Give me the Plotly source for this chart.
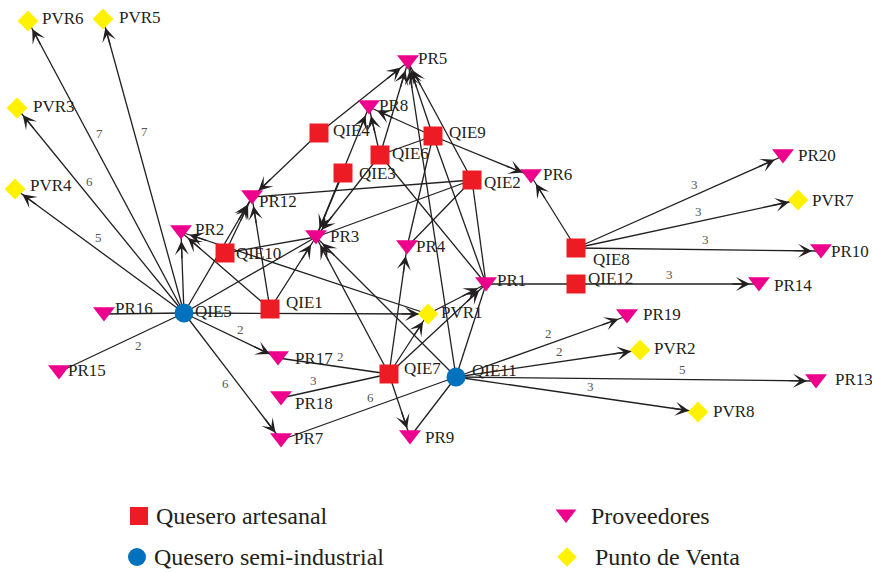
import math
import plotly.graph_objects as go

# ---------------- data ----------------
node_names = ["QIE1", "QIE2", "QIE3", "QIE4", "QIE6", "QIE7", "QIE8", "QIE9", "QIE10", "QIE12",
              "QIE5", "QIE11",
              "PR1", "PR2", "PR3", "PR4", "PR5", "PR6", "PR7", "PR8", "PR9", "PR10",
              "PR12", "PR13", "PR14", "PR15", "PR16", "PR17", "PR18", "PR19", "PR20",
              "PVR1", "PVR2", "PVR3", "PVR4", "PVR5", "PVR6", "PVR7", "PVR8"]
node_x = [270, 472, 343, 319, 380, 389, 576, 433, 225, 576,
          184, 456,
          486, 181, 316, 407, 408, 531, 281, 369, 410, 821,
          252, 816, 759, 59, 104, 278, 281, 627, 783,
          428, 640, 17, 15, 103, 28, 798, 698]
node_y = [309, 180, 173, 133, 155, 374, 248, 136, 253, 284,
          313, 377,
          284, 232, 237, 247, 62, 176, 440, 107, 437, 251,
          197, 381, 284, 372, 314, 358, 398, 316, 156,
          314, 350, 108, 189, 19, 21, 200, 412]
node_type = (["art"] * 10 + ["semi"] * 2 + ["prov"] * 19 + ["pv"] * 8)

edge_src = ["QIE5", "QIE5", "QIE5", "QIE5", "QIE5", "QIE5", "QIE5", "QIE5", "QIE5", "QIE5", "QIE5", "QIE5",
            "QIE1", "QIE1", "QIE1", "QIE10", "QIE10", "PVR1", "QIE4", "QIE4", "QIE3", "PR3",
            "QIE6", "QIE6", "QIE6", "QIE6", "QIE6", "QIE9", "QIE9", "QIE9", "QIE9", "QIE9",
            "QIE2", "QIE2", "QIE2", "QIE2", "QIE2",
            "QIE7", "QIE7", "QIE7", "QIE7", "QIE7", "QIE7", "QIE7", "PVR1",
            "QIE11", "QIE11", "QIE11", "QIE11", "QIE11", "QIE11", "QIE11", "QIE11", "QIE11",
            "QIE8", "QIE8", "QIE8", "QIE8", "PR1", "QIE12"]
edge_dst = ["PVR6", "PVR5", "PVR3", "PVR4", "PR2", "PR12", "PR3", "PVR1", "PR17", "PR7", "PR16", "PR15",
            "PR2", "PR12", "PR3", "PR12", "PR3", "PR2", "PR12", "PR5", "PR3", "PR8",
            "PR3", "PR8", "PR5", "PR1", "QIE9", "PR8", "PR5", "PR6", "PR4", "PR1",
            "PR5", "PR12", "PR3", "PR4", "PR1",
            "PR17", "PR18", "PR9", "PVR1", "PR1", "PR4", "PR3", "PR1",
            "PR7", "PR9", "PR1", "PR3", "PR5", "PR19", "PVR2", "PR13", "PVR8",
            "PR6", "PR20", "PVR7", "PR10", "QIE12", "PR14"]
edge_arrow = [1, 1, 1, 1, 1, 1, 0, 1, 1, 1, 0, 0,
              1, 1, 1, 1, 0, 1, 1, 1, 1, 1,
              1, 1, 1, 0, 0, 1, 1, 1, 0, 0,
              1, 0, 0, 0, 0,
              0, 0, 1, 1, 1, 1, 1, 1,
              0, 0, 0, 1, 1, 1, 1, 1, 1,
              1, 1, 1, 1, 0, 1]
edge_weight = [7, 7, 6, 5, None, None, None, None, 2, 6, None, 2,
               None, None, None, None, None, None, None, None, None, None,
               None, None, None, None, None, None, None, None, None, None,
               None, None, None, None, None,
               2, 3, None, None, None, None, None, None,
               6, None, None, None, None, 2, 2, 5, 3,
               None, 3, 3, 3, None, 3]

legend_labels = ["Quesero artesanal", "Quesero semi-industrial", "Proveedores", "Punto de Venta"]

# ---------------- style ----------------
FONT = "Liberation Serif, Times New Roman, serif"
EDGE_COLOR = "#231F20"
type_style = {
    "art": dict(symbol="square", color="#ED1C24", size=19),
    "semi": dict(symbol="circle", color="#0071BC", size=19),
    "prov": dict(symbol="triangle-down", color="#EC008C", size=19),
    "pv": dict(symbol="diamond", color="#FFF200", size=16),
}
label_offset = {
    "PVR6": (12, -3), "PVR5": (14, -2), "PVR3": (14, -2), "PVR4": (13, -4),
    "PR5": (8, -4), "PR8": (8, -2), "QIE4": (12, -3), "QIE9": (14, -4),
    "QIE6": (10, -2), "QIE3": (14, 0), "QIE2": (10, 2), "PR6": (10, -2),
    "PR20": (13, -1), "PVR7": (12, 0), "PR10": (8, 0), "PR12": (5, 4),
    "PR2": (12, -3), "QIE10": (9, 0), "PR3": (12, -1), "PR4": (7, -1),
    "QIE8": (15, 11), "PR1": (9, -4), "QIE12": (10, -6), "PR14": (13, 1),
    "PR16": (9, -6), "QIE5": (9, -2), "QIE1": (14, -7), "PVR1": (11, -2),
    "PR19": (14, -2), "PVR2": (12, -2), "PR17": (15, 0), "QIE7": (13, -6),
    "QIE11": (14, -7), "PR13": (17, -2), "PR15": (7, -2), "PR18": (12, 5),
    "PVR8": (13, -1), "PR7": (11, -2), "PR9": (13, 0),
}
weight_side = {("QIE5", "PR15"): -1, ("QIE5", "PR7"): -1}
weight_t = {("QIE5", "PVR6"): 0.60, ("QIE5", "PVR5"): 0.61, ("QIE5", "PVR3"): 0.61,
            ("QIE5", "PVR4"): 0.54, ("QIE5", "PR15"): 0.40, ("QIE5", "PR17"): 0.56,
            ("QIE5", "PR7"): 0.51, ("QIE7", "PR17"): 0.45, ("QIE7", "PR18"): 0.68,
            ("QIE11", "PR7"): 0.47, ("QIE8", "PR20"): 0.59, ("QIE8", "PVR7"): 0.56,
            ("QIE8", "PR10"): 0.53, ("QIE12", "PR14"): 0.51, ("QIE11", "PR19"): 0.56,
            ("QIE11", "PVR2"): 0.57, ("QIE11", "PR13"): 0.63, ("QIE11", "PVR8"): 0.55}

pos = {n: (x, y) for n, x, y in zip(node_names, node_x, node_y)}

fig = go.Figure()

# edges as lines (under the nodes)
ex, ey = [], []
for s, d in zip(edge_src, edge_dst):
    ex += [pos[s][0], pos[d][0], None]
    ey += [pos[s][1], pos[d][1], None]
fig.add_trace(go.Scatter(x=ex, y=ey, mode="lines", hoverinfo="skip", cliponaxis=False,
                         line=dict(color=EDGE_COLOR, width=1.3), showlegend=False))

annotations = []
# arrowheads
for s, d, a in zip(edge_src, edge_dst, edge_arrow):
    if not a:
        continue
    x0, y0 = pos[s]
    x1, y1 = pos[d]
    L = math.hypot(x1 - x0, y1 - y0)
    ux, uy = (x1 - x0) / L, (y1 - y0) / L
    tail = 28
    annotations.append(dict(x=x1, y=y1, xref="x", yref="y", text="", showarrow=True,
                            ax=-ux * tail, ay=-uy * tail, axref="pixel", ayref="pixel",
                            arrowhead=3, arrowsize=1.8, arrowwidth=1.3,
                            arrowcolor=EDGE_COLOR, standoff=9))

# weight labels
for s, d, w in zip(edge_src, edge_dst, edge_weight):
    if w is None:
        continue
    x0, y0 = pos[s]
    x1, y1 = pos[d]
    L = math.hypot(x1 - x0, y1 - y0)
    ux, uy = (x1 - x0) / L, (y1 - y0) / L
    nx, ny = uy, -ux
    if ny > 0:
        nx, ny = -nx, -ny
    side = weight_side.get((s, d), 1)
    t = weight_t.get((s, d), 0.56)
    px = x0 + (x1 - x0) * t + nx * 10 * side
    py = y0 + (y1 - y0) * t + ny * 10 * side
    annotations.append(dict(x=px, y=py, xref="x", yref="y", text=str(w), showarrow=False,
                            font=dict(family=FONT, size=13, color="#555555")))

# nodes
for t, lab in zip(["art", "semi", "prov", "pv"], legend_labels):
    st = type_style[t]
    xs = [x for x, tt in zip(node_x, node_type) if tt == t]
    ys = [y - (2 if t == "prov" else 0) for y, tt in zip(node_y, node_type) if tt == t]
    nm = [n for n, tt in zip(node_names, node_type) if tt == t]
    fig.add_trace(go.Scatter(x=xs, y=ys, mode="markers", name=lab, text=nm,
                             hoverinfo="text", showlegend=False, cliponaxis=False,
                             marker=dict(symbol=st["symbol"], color=st["color"],
                                         size=st["size"], line=dict(width=0))))

# node labels
for n, x, y in zip(node_names, node_x, node_y):
    dx, dy = label_offset.get(n, (11, 0))
    annotations.append(dict(x=x + dx, y=y + dy, xref="x", yref="y", text=n, showarrow=False,
                            xanchor="left", yanchor="middle",
                            font=dict(family=FONT, size=17, color="#231F20")))

# legend (drawn manually)
leg_pos = [(139, 516, 154), (137, 557, 152), (566, 516, 589), (567, 557, 593)]
for (mx, my, tx), t, lab in zip(leg_pos, ["art", "semi", "prov", "pv"], legend_labels):
    st = type_style[t]
    fig.add_trace(go.Scatter(x=[mx], y=[my - (2 if t == "prov" else 0)], mode="markers",
                             hoverinfo="skip", showlegend=False, cliponaxis=False,
                             marker=dict(symbol=st["symbol"], color=st["color"],
                                         size=st["size"] - 1, line=dict(width=0))))
    annotations.append(dict(x=tx, y=my, xref="x", yref="y", text=lab, showarrow=False,
                            xanchor="left", yanchor="middle",
                            font=dict(family=FONT, size=24, color="#231F20")))

fig.update_layout(
    width=872, height=572,
    margin=dict(l=0, r=0, t=0, b=0),
    paper_bgcolor="white", plot_bgcolor="white",
    xaxis=dict(range=[0, 872], visible=False, fixedrange=True),
    yaxis=dict(range=[572, 0], visible=False, fixedrange=True),
    annotations=annotations,
    showlegend=False,
)

# remove the default page margin so the figure fills the window exactly
fig.write_html("out.html",
               config={"displayModeBar": False},
               post_script="document.body.style.margin='0';document.body.style.overflow='hidden';")
